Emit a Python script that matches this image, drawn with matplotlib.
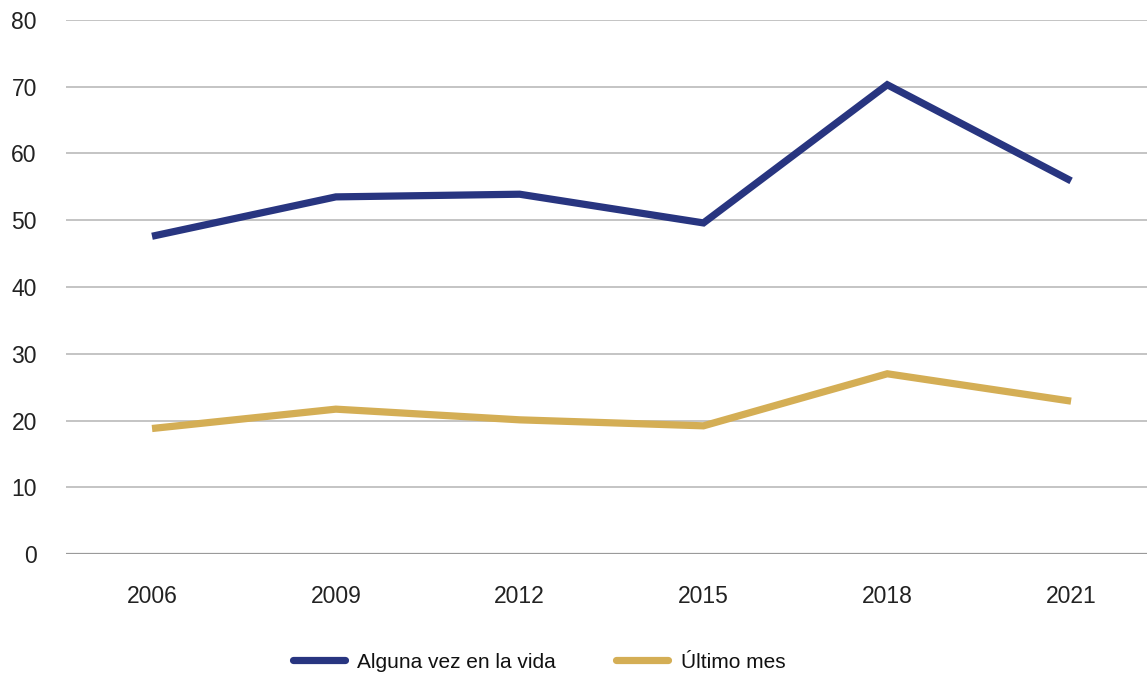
import matplotlib
matplotlib.use("Agg")
import matplotlib.pyplot as plt

years = ["2006", "2009", "2012", "2015", "2018", "2021"]
alguna_vez = [47.6, 53.5, 53.9, 49.6, 70.3, 55.9]
ultimo_mes = [18.8, 21.7, 20.1, 19.2, 27.0, 22.9]
y_ticks = [0, 10, 20, 30, 40, 50, 60, 70, 80]

plt.rcParams['font.family'] = ['Liberation Sans', 'DejaVu Sans']
FS = 16.5
LFS = 15.0

fig = plt.figure(figsize=(11.47, 6.77), dpi=100)
ax = fig.add_axes([66/1147, 1 - 554/677, 1 - 66/1147, (554 - 20)/677])

x = list(range(len(years)))
ax.plot(x, alguna_vez, color="#283580", lw=5.2, solid_capstyle="butt", solid_joinstyle="miter",
        label="Alguna vez en la vida", zorder=3)
ax.plot(x, ultimo_mes, color="#D4AE55", lw=5.2, solid_capstyle="butt", solid_joinstyle="miter",
        label="Último mes", zorder=3)

ax.set_ylim(0, 80)
ax.set_xlim(-0.468, 5.413)
ax.set_yticks(y_ticks)
ax.set_yticklabels([str(v) for v in y_ticks])
ax.set_xticks(x)
ax.set_xticklabels(years)
ax.tick_params(axis="both", length=0, labelsize=FS, colors="#222222")
ax.tick_params(axis="y", pad=21)
ax.tick_params(axis="x", pad=22)
for s in ax.spines.values():
    s.set_visible(False)
ax.grid(axis="y", color="#c4c4c4", lw=1.4, zorder=1)
ax.axhline(0, color="#9a9a9a", lw=1.6, zorder=2)

leg = fig.legend(loc="center", bbox_to_anchor=(0.470, 1 - 662/677), ncol=2, frameon=False,
                 fontsize=LFS, handlelength=2.5, handletextpad=0.6, columnspacing=2.9)
for h in leg.get_lines():
    h.set_linewidth(5.2)
    h.set_solid_capstyle("round")
for t in leg.get_texts():
    t.set_color("#111111")

fig.savefig("out.png", dpi=100)
